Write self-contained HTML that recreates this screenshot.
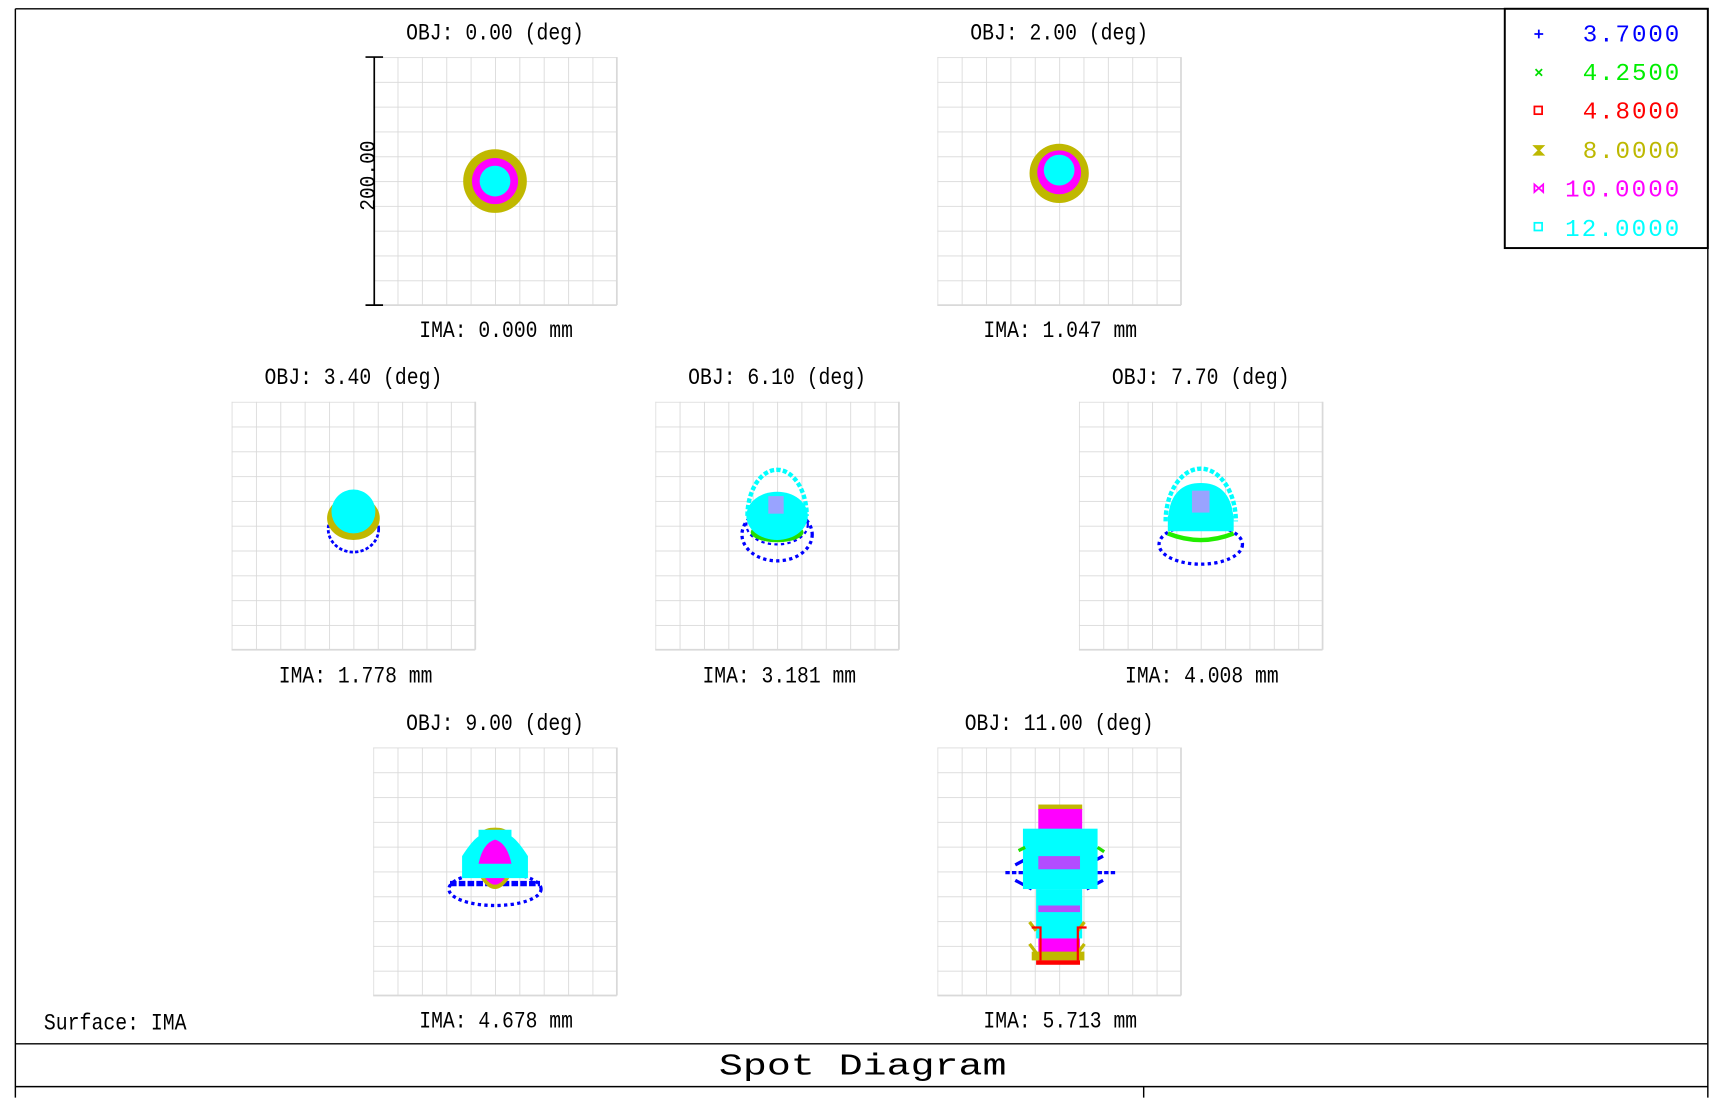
<!DOCTYPE html>
<html><head><meta charset="utf-8"><style>
html,body{margin:0;padding:0;background:#fff;}
svg{display:block;}
text{font-family:"Liberation Mono","DejaVu Sans Mono",monospace;}
</style></head><body>
<svg width="1721" height="1119" viewBox="0 0 1568 1019.5" preserveAspectRatio="none" xmlns="http://www.w3.org/2000/svg">
<defs>
<pattern id="gp" width="22.2" height="22.6" patternUnits="userSpaceOnUse">
<path d="M0 0H22.2M0 0V22.6" stroke="#d9d9d9" stroke-width="1.6" fill="none"/>
</pattern>
<symbol id="grid" overflow="visible">
<rect x="0" y="0" width="222" height="226" fill="url(#gp)"/>
<path d="M222 0V226M0 226H222" stroke="#d9d9d9" stroke-width="1.6"/>
</symbol>
</defs>
<rect width="1568" height="1020" fill="#fff"/>
<g stroke="#000" stroke-width="1.3" fill="none">
<path d="M14 8H1556V1000M14 8V1000M14 951H1556M14 990H1556M1042 990V1000"/>
<rect x="1371" y="8" width="185" height="218" stroke-width="1.8"/>
</g>
<use href="#grid" x="340" y="52"/>
<use href="#grid" x="854" y="52"/>
<use href="#grid" x="211" y="366"/>
<use href="#grid" x="597" y="366"/>
<use href="#grid" x="983" y="366"/>
<use href="#grid" x="340" y="681"/>
<use href="#grid" x="854" y="681"/>
<path d="M341 52V278M333 52H349M333 278H349" stroke="#000" stroke-width="1.5"/>
<text transform="translate(341,160) rotate(-90)" text-anchor="middle" font-size="20" textLength="64" lengthAdjust="spacingAndGlyphs">200.00</text>
<g font-size="21" fill="#000" text-anchor="middle">
<text x="451" y="36" textLength="162" lengthAdjust="spacingAndGlyphs">OBJ: 0.00 (deg)</text>
<text x="965" y="36" textLength="162" lengthAdjust="spacingAndGlyphs">OBJ: 2.00 (deg)</text>
<text x="322" y="350" textLength="162" lengthAdjust="spacingAndGlyphs">OBJ: 3.40 (deg)</text>
<text x="708" y="350" textLength="162" lengthAdjust="spacingAndGlyphs">OBJ: 6.10 (deg)</text>
<text x="1094" y="350" textLength="162" lengthAdjust="spacingAndGlyphs">OBJ: 7.70 (deg)</text>
<text x="451" y="665" textLength="162" lengthAdjust="spacingAndGlyphs">OBJ: 9.00 (deg)</text>
<text x="965" y="665" textLength="172" lengthAdjust="spacingAndGlyphs">OBJ: 11.00 (deg)</text>
<text x="452" y="307" textLength="140" lengthAdjust="spacingAndGlyphs">IMA: 0.000 mm</text>
<text x="966" y="307" textLength="140" lengthAdjust="spacingAndGlyphs">IMA: 1.047 mm</text>
<text x="324" y="622" textLength="140" lengthAdjust="spacingAndGlyphs">IMA: 1.778 mm</text>
<text x="710" y="622" textLength="140" lengthAdjust="spacingAndGlyphs">IMA: 3.181 mm</text>
<text x="1095" y="622" textLength="140" lengthAdjust="spacingAndGlyphs">IMA: 4.008 mm</text>
<text x="452" y="936" textLength="140" lengthAdjust="spacingAndGlyphs">IMA: 4.678 mm</text>
<text x="966" y="936" textLength="140" lengthAdjust="spacingAndGlyphs">IMA: 5.713 mm</text>
<text x="105" y="938" textLength="130" lengthAdjust="spacingAndGlyphs">Surface: IMA</text>
<text x="786" y="979" font-size="28" textLength="262" lengthAdjust="spacingAndGlyphs">Spot Diagram</text>
</g>
<g font-size="22">
<text x="1442" y="38" fill="#0000ff" textLength="88" lengthAdjust="spacing">3.7000</text>
<text x="1442" y="73" fill="#00ee00" textLength="88" lengthAdjust="spacing">4.2500</text>
<text x="1442" y="108" fill="#ff0000" textLength="88" lengthAdjust="spacing">4.8000</text>
<text x="1442" y="144" fill="#bdb800" textLength="88" lengthAdjust="spacing">8.0000</text>
<text x="1426" y="179" fill="#ff00ff" textLength="104" lengthAdjust="spacing">10.0000</text>
<text x="1426" y="215" fill="#00ffff" textLength="104" lengthAdjust="spacing">12.0000</text>
</g>
<g stroke-width="1.6" fill="none">
<path d="M1398 31H1406M1402 27V35" stroke="#0000ff"/>
<path d="M1399 63L1405 69M1405 63L1399 69" stroke="#00dd00"/>
<rect x="1398" y="97" width="7" height="7" stroke="#ff0000"/>
<path d="M1398 133H1406L1398 141H1406Z" stroke="#bdb800" fill="#bdb800"/>
<path d="M1398 168V175L1406 168V175Z" stroke="#ff00ff"/>
<rect x="1398" y="203" width="7" height="7" stroke="#00ffff"/>
</g>
<circle cx="451" cy="165" r="29" fill="#c0b800"/>
<circle cx="451" cy="165" r="21" fill="#ff00ff"/>
<circle cx="451" cy="165" r="14" fill="#00ffff"/>
<circle cx="965" cy="158" r="27" fill="#c0b800"/>
<circle cx="965" cy="157" r="20" fill="#ff00ff"/>
<circle cx="965" cy="155" r="14" fill="#00ffff"/>
<ellipse cx="322" cy="482" rx="23" ry="21" fill="none" stroke="#0000ff" stroke-width="2.5" stroke-dasharray="3 2"/>
<ellipse cx="322" cy="472" rx="24" ry="20" fill="#c0b800"/>
<ellipse cx="322" cy="466" rx="20" ry="20" fill="#00ffff"/>
<ellipse cx="708" cy="487" rx="32" ry="24" fill="none" stroke="#0000ff" stroke-width="3" stroke-dasharray="3 3"/>
<ellipse cx="708" cy="478" rx="28" ry="18" fill="none" stroke="#0000ff" stroke-width="2" stroke-dasharray="3 3"/>
<path d="M681 470 A27 42 0 0 1 735 470" fill="none" stroke="#00ffff" stroke-width="4" stroke-dasharray="4 2"/>
<ellipse cx="708" cy="485" rx="24" ry="9" fill="#22dd00"/>
<ellipse cx="708" cy="470" rx="28" ry="22" fill="#00ffff"/>
<rect x="700" y="452" width="14" height="16" fill="#ff66ff" opacity="0.6"/>
<ellipse cx="1094" cy="496" rx="38" ry="18" fill="none" stroke="#0000ff" stroke-width="3" stroke-dasharray="3 3"/>
<path d="M1062 475 A32 48 0 0 1 1126 475" fill="none" stroke="#00ffff" stroke-width="4" stroke-dasharray="4 2"/>
<path d="M1064 486 Q1094 498 1124 486" fill="none" stroke="#22ee00" stroke-width="4"/>
<path d="M1064 474 Q1066 440 1094 440 Q1122 440 1124 474 Z" fill="#00ffff"/>
<rect x="1064" y="470" width="60" height="14" fill="#00ffff"/>
<rect x="1086" y="447" width="16" height="20" fill="#ff66ff" opacity="0.6"/>
<ellipse cx="451" cy="810" rx="42" ry="15" fill="none" stroke="#0000ff" stroke-width="3" stroke-dasharray="3 3"/>
<path d="M410 805 H492" stroke="#0000ff" stroke-width="5" stroke-dasharray="6 2"/>
<ellipse cx="451" cy="758" rx="11" ry="4" fill="#c0b800"/>
<path d="M421 800 V780 Q430 766 436 762 V756 H466 V762 Q472 766 481 780 V800 Z" fill="#00ffff"/>
<path d="M436 787 Q440 768 451 765 Q462 768 466 787 Z" fill="#ff00ff"/>
<path d="M438 800 Q451 820 464 800 Z" fill="#c0b800"/>
<path d="M442 800 Q451 812 460 800 Z" fill="#ff00ff"/>
<path d="M916 795 H1016" stroke="#0000ff" stroke-width="3" stroke-dasharray="4 2"/>
<path d="M925 788 L940 780 M1005 780 L990 788 M925 802 L940 810 M1005 802 L990 810" stroke="#0000ff" stroke-width="3"/>
<rect x="946" y="733" width="40" height="5" fill="#c0b800"/>
<rect x="946" y="737" width="40" height="20" fill="#ff00ff"/>
<rect x="932" y="755" width="68" height="55" fill="#00ffff"/>
<path d="M928 775 L934 772 M1000 772 L1006 776" stroke="#22dd00" stroke-width="3"/>
<rect x="946" y="780" width="38" height="12" fill="#ff00ff" opacity="0.7"/>
<rect x="944" y="810" width="42" height="45" fill="#00ffff"/>
<rect x="946" y="825" width="38" height="6" fill="#ff00ff" opacity="0.7"/>
<rect x="946" y="855" width="38" height="20" fill="#ff00ff"/>
<rect x="940" y="867" width="48" height="8" fill="#c0b800"/>
<rect x="944" y="875" width="40" height="4" fill="#ff0000"/>
<path d="M938 840 l6 8 M938 860 l6 8 M988 840 l-6 8 M988 860 l-6 8" stroke="#c0b800" stroke-width="3"/>
<path d="M940 845 H948 V875 M990 845 H982 V875" stroke="#ff0000" stroke-width="2" fill="none"/>
</svg>
</body></html>
